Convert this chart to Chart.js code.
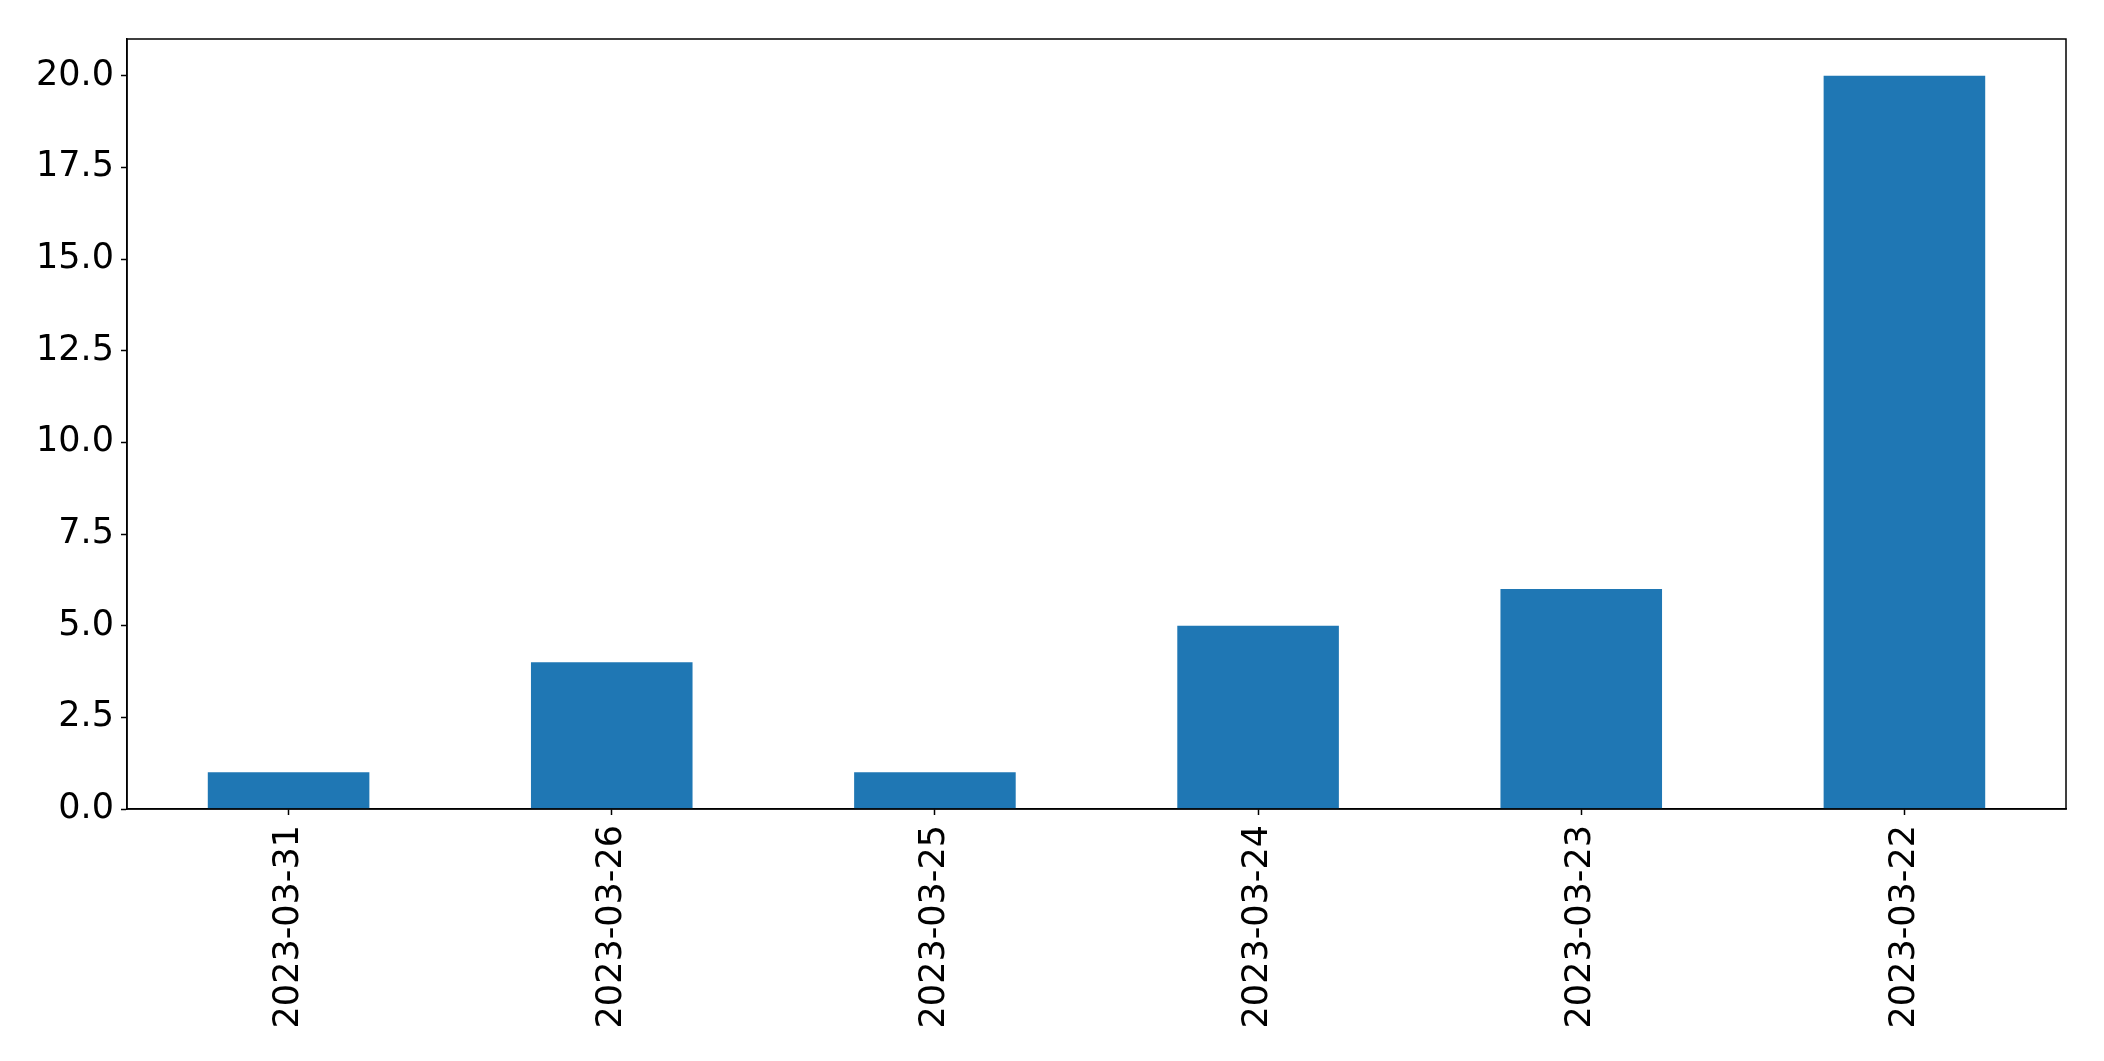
<!DOCTYPE html>
<html>
<head>
<meta charset="utf-8">
<script src="https://cdn.jsdelivr.net/npm/chart.js@4/dist/chart.umd.min.js"></script>
<style>
    html, body { margin: 0; padding: 0; background: #fff; }
    #wrap { width: 2104px; height: 1061px; }
</style>
</head>
<body>
<div id="wrap"><canvas id="barChart" width="2104" height="1061"></canvas></div>
<script>
const dates = ["2023-03-31", "2023-03-26", "2023-03-25", "2023-03-24", "2023-03-23", "2023-03-22"]
const counts = [1, 4, 1, 5, 6, 20]
const yTicks = [0, 2.5, 5, 7.5, 10, 12.5, 15, 17.5, 20]

// draws the top and right edges of the axes box
const frameBox = {
    id: "frameBox",
    afterDraw(chart) {
        const { ctx, chartArea } = chart
        ctx.save()
        ctx.strokeStyle = "#000"
        ctx.lineWidth = 1.5
        ctx.strokeRect(chartArea.left, chartArea.top, chartArea.right - chartArea.left, chartArea.bottom - chartArea.top)
        ctx.restore()
    }
}

Chart.defaults.font.family = "'DejaVu Sans', sans-serif"
Chart.defaults.color = "#000"

new Chart(document.getElementById("barChart").getContext("2d"), {
    type: "bar",
    data: {
        labels: dates,
        datasets: [{
            data: counts,
            backgroundColor: "#1f77b4",
            barPercentage: 0.5,
            categoryPercentage: 1.0
        }]
    },
    options: {
        responsive: false,
        animation: false,
        layout: {
            padding: { top: 39, right: 38, left: 0, bottom: 0 }
        },
        plugins: {
            legend: { display: false },
            tooltip: { enabled: false }
        },
        scales: {
            x: {
                grid: {
                    offset: false,
                    drawOnChartArea: false,
                    tickLength: 6,
                    tickColor: "#000",
                    tickWidth: 1.5
                },
                border: { color: "#000", width: 1.5 },
                ticks: {
                    minRotation: 90,
                    maxRotation: 90,
                    autoSkip: false,
                    padding: 10,
                    font: { size: 35 }
                },
                afterFit: (scale) => { scale.height = 252 }
            },
            y: {
                min: 0,
                max: 21,
                grid: {
                    drawOnChartArea: false,
                    tickLength: 6,
                    tickColor: "#000",
                    tickWidth: 1.5
                },
                border: { color: "#000", width: 1.5 },
                ticks: {
                    padding: 7,
                    font: { size: 35 },
                    callback: (val) => Number(val).toFixed(1)
                },
                afterBuildTicks: (scale) => {
                    scale.ticks = yTicks.map(v => ({ value: v }))
                },
                afterFit: (scale) => { scale.width = 127 }
            }
        }
    },
    plugins: [frameBox]
})
</script>
</body>
</html>
